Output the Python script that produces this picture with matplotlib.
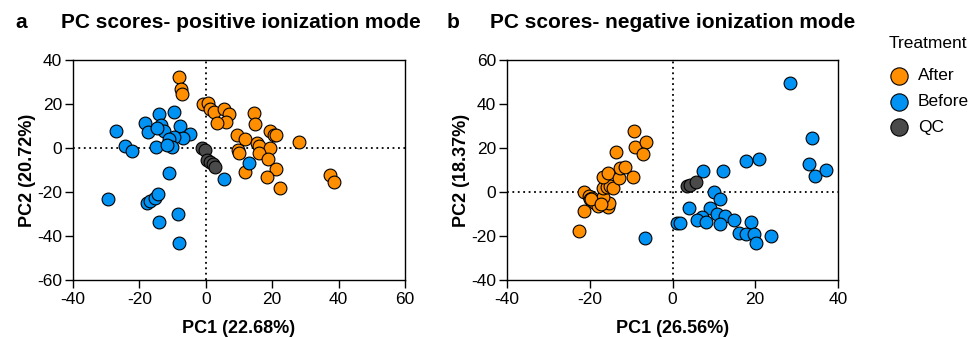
import matplotlib.pyplot as plt

plt.rcParams['font.family'] = ['Liberation Sans', 'DejaVu Sans']
plt.rcParams['axes.unicode_minus'] = False

# panel a - positive ionization mode
pos_after_x = [-8.2, -7.5, -7.2, -0.8, 0.7, 1.4, 2.6, 5.6, 6.9, 6.1, 3.4, 14.4, 14.9, 9.4, 11.9,
               15.4, 15.9, 19.2, 20.4, 21.1, 28.0, 19.2, 15.9, 9.6, 10.1, 18.7, 21.2, 18.4, 11.9,
               22.4, 37.5, 38.7]
pos_after_y = [32.1, 26.7, 24.4, 19.9, 20.3, 17.6, 16.5, 17.6, 15.3, 12.0, 11.2, 15.8, 10.9, 5.9, 3.9,
               2.4, 0.8, 7.9, 5.9, 5.9, 2.9, -0.2, -2.1, -0.9, -2.1, -5.2, -9.5, -13.3, -10.8,
               -18.3, -12.3, -15.3]
pos_before_x = [-27.0, -24.2, -22.2, -18.2, -17.4, -14.0, -13.5, -12.7, -14.7, -9.7, -7.7, -4.7, -6.9,
                -9.7, -11.2, -14.9, -10.2, -11.7, -11.0, -29.5, -17.7, -16.9, -15.2, -14.3, -14.2,
                -8.5, -8.0, 13.1, 5.4]
pos_before_y = [7.7, 0.9, -1.2, 11.5, 7.4, 15.3, 10.5, 7.7, 9.2, 16.5, 10.0, 6.4, 4.7,
                4.9, 4.1, 0.3, 0.3, 1.4, -11.5, -23.2, -25.1, -24.0, -22.9, -20.9, -33.6,
                -30.0, -43.3, -7.0, -13.9]
pos_qc_x = [-1.0, -0.2, 0.4, 1.4, 2.2, 2.9]
pos_qc_y = [0.1, -0.9, -5.5, -6.2, -7.3, -8.8]

# panel b - negative ionization mode
neg_after_x = [-22.5, -21.5, -21.3, -20.3, -19.9, -19.5, -18.7, -17.9, -15.7, -15.4, -16.7, -16.7,
               -15.8, -15.2, -14.4, -16.8, -15.7, -13.0, -12.8, -11.4, -9.6, -13.7, -9.4, -9.1,
               -6.5, -7.2, -19.8, -17.2]
neg_after_y = [-17.6, -8.6, -0.2, -1.8, -3.3, -2.6, -4.8, -6.4, -6.7, -4.8, -2.1, 1.7,
               2.4, 2.7, 2.0, 6.7, 8.8, 6.2, 10.8, 11.5, 6.7, 18.0, 27.7, 20.6,
               22.6, 17.1, -3.0, -5.5]
neg_before_x = [28.3, 33.6, 33.1, 34.4, 37.1, 17.7, 20.9, 7.4, 12.3, 10.0, 11.5, 4.0, 9.0, 7.2,
                6.0, 8.0, 10.8, 12.6, 14.9, 11.6, 1.0, 1.9, 18.9, 16.1, 17.7, 19.7, 20.1, 23.8,
                -6.7]
neg_before_y = [49.7, 24.7, 12.6, 7.3, 10.0, 14.2, 15.1, 9.7, 9.7, -0.2, -3.3, -7.1, -7.4, -11.2,
                -12.7, -13.8, -10.2, -10.9, -12.7, -14.7, -14.2, -13.9, -13.8, -18.8, -19.1, -19.1,
                -23.0, -19.9, -20.8]
neg_qc_x = [3.6, 4.2, 5.6]
neg_qc_y = [2.7, 3.2, 4.7]

c_after = '#FF8F00'
c_before = '#0093F3'
c_qc = '#4A4A4A'

fig = plt.figure(figsize=(9.72, 3.37), dpi=100)
ax1 = fig.add_axes([73 / 972, 57 / 337, 332 / 972, 220 / 337])
ax2 = fig.add_axes([507 / 972, 57 / 337, 331 / 972, 220 / 337])


def draw(ax, data, xlim, ylim, xticks, yticks, xlabel, ylabel):
    ax.axhline(0, color='black', ls=(0, (1, 2)), lw=1.3, zorder=1)
    ax.axvline(0, color='black', ls=(0, (1, 2)), lw=1.3, zorder=1)
    for (x, y, c, lab) in data:
        ax.scatter(x, y, s=85, color=c, edgecolor='black', linewidth=0.8, zorder=3, label=lab)
    ax.set_xlim(xlim)
    ax.set_ylim(ylim)
    ax.set_xticks(xticks)
    ax.set_yticks(yticks)
    ax.tick_params(direction='out', length=6, width=1, labelsize=12.5, pad=2)
    ax.tick_params(axis='x', pad=3)
    for sp in ax.spines.values():
        sp.set_linewidth(1)
    ax.set_xlabel(xlabel, fontsize=13, fontweight='bold', labelpad=9)
    ax.set_ylabel(ylabel, fontsize=13, fontweight='bold', labelpad=1)


draw(ax1, [(pos_after_x, pos_after_y, c_after, 'After'),
           (pos_before_x, pos_before_y, c_before, 'Before'),
           (pos_qc_x, pos_qc_y, c_qc, 'QC')],
     (-40, 60), (-60, 40), range(-40, 61, 20), range(-60, 41, 20),
     'PC1 (22.68%)', 'PC2 (20.72%)')
draw(ax2, [(neg_after_x, neg_after_y, c_after, 'After'),
           (neg_before_x, neg_before_y, c_before, 'Before'),
           (neg_qc_x, neg_qc_y, c_qc, 'QC')],
     (-40, 40), (-40, 60), range(-40, 41, 20), range(-40, 61, 20),
     'PC1 (26.56%)', 'PC2 (18.37%)')

fig.text(15 / 972, 1 - 22 / 337, 'a', fontsize=15, fontweight='bold', va='center')
fig.text(61 / 972, 1 - 22 / 337, 'PC scores- positive ionization mode', fontsize=15,
         fontweight='bold', va='center')
fig.text(447 / 972, 1 - 22 / 337, 'b', fontsize=15, fontweight='bold', va='center')
fig.text(490 / 972, 1 - 22 / 337, 'PC scores- negative ionization mode', fontsize=15,
         fontweight='bold', va='center')

fig.text(889 / 972, 1 - 43 / 337, 'Treatment', fontsize=12.5, va='center')
ax2.legend(loc='upper left', bbox_to_anchor=(889 / 972, 1 - 68 / 337),
           bbox_transform=fig.transFigure, frameon=False, fontsize=12.5,
           markerscale=1.35, handlelength=1.2, handletextpad=0.45,
           labelspacing=0.62, borderaxespad=0, borderpad=0)

fig.savefig('out.png', dpi=100)
